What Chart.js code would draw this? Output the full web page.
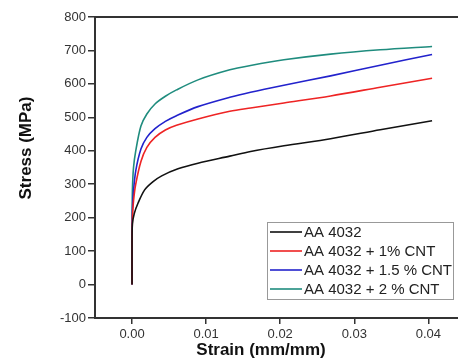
<!DOCTYPE html>
<html>
<head>
<meta charset="utf-8">
<script src="https://cdn.jsdelivr.net/npm/chart.js@4.4.1/dist/chart.umd.min.js"></script>
<style>
  html, body { margin: 0; padding: 0; background: #fff; }
  #wrap { width: 458px; height: 360px; }
</style>
</head>
<body>
<div id="wrap"><canvas id="stressChart" width="458" height="360"></canvas></div>
<script>
// series: [strain, stress]
const labels = ['AA 4032', 'AA 4032 + 1% CNT', 'AA 4032 + 1.5 % CNT', 'AA 4032 + 2 % CNT'];
const colors = ['#111111', '#ee2424', '#2222cc', '#1f8c7e'];

const aa4032 = [[0, 0], [0, 120], [0.00005, 181], [0.0003, 212], [0.0008, 243], [0.0017, 283], [0.0028, 307], [0.004, 325],
  [0.0062, 346], [0.0089, 363], [0.0132, 384], [0.016, 398], [0.0205, 415], [0.0268, 436], [0.0335, 463], [0.0405, 490]];
const cnt1 = [[0, 0], [0, 110], [0.00005, 200], [0.0002, 250], [0.0005, 300], [0.0012, 368], [0.002, 410], [0.0031, 440],
  [0.0045, 462], [0.006, 476], [0.0089, 495], [0.0132, 518], [0.016, 528], [0.0205, 543], [0.0268, 564], [0.0335, 590], [0.0405, 617]];
const cnt15 = [[0, 0], [0, 120], [0.00005, 220], [0.0002, 280], [0.0005, 340], [0.0012, 405], [0.002, 440], [0.0031, 466],
  [0.0045, 488], [0.006, 505], [0.0089, 532], [0.0132, 560], [0.016, 575], [0.0205, 596], [0.0268, 624], [0.0335, 656], [0.0405, 688]];
const cnt2 = [[0, 0], [0, 150], [0.00005, 281], [0.0002, 350], [0.0005, 400], [0.0012, 474], [0.002, 510], [0.0031, 540],
  [0.0045, 563], [0.006, 582], [0.0089, 612], [0.0132, 642], [0.016, 655], [0.0205, 672], [0.0268, 689], [0.0335, 702], [0.0405, 712]];

const xTicks = [0, 0.01, 0.02, 0.03, 0.04];
const yTicks = [-100, 0, 100, 200, 300, 400, 500, 600, 700, 800];

const series = [aa4032, cnt1, cnt15, cnt2];

// frame top line, axis titles and the boxed legend
const extras = {
  id: 'extras',
  afterDraw(chart) {
    const ctx = chart.ctx;
    const a = chart.chartArea;
    ctx.save();
    ctx.strokeStyle = '#333';
    ctx.lineWidth = 2;
    ctx.beginPath();
    ctx.moveTo(a.left - 1, a.top);
    ctx.lineTo(a.right, a.top);
    ctx.stroke();

    ctx.fillStyle = '#111';
    ctx.font = 'bold 17px "Liberation Sans", Arial, sans-serif';
    ctx.textAlign = 'center';
    ctx.textBaseline = 'middle';
    ctx.fillText('Strain (mm/mm)', 261, 350);
    ctx.translate(26, 148);
    ctx.rotate(-Math.PI / 2);
    ctx.fillText('Stress (MPa)', 0, 0);
    ctx.restore();

    // legend
    ctx.save();
    const lx = 267, ly = 222, lw = 186, lh = 77;
    ctx.fillStyle = '#fff';
    ctx.fillRect(lx, ly, lw, lh);
    ctx.strokeStyle = '#999';
    ctx.lineWidth = 1;
    ctx.strokeRect(lx + 0.5, ly + 0.5, lw, lh);
    ctx.font = '15px "Liberation Sans", Arial, sans-serif';
    ctx.textBaseline = 'middle';
    ctx.textAlign = 'left';
    chart.data.datasets.forEach((ds, i) => {
      const y = ly + 10 + i * 19;
      ctx.strokeStyle = ds.borderColor;
      ctx.lineWidth = 1.6;
      ctx.beginPath();
      ctx.moveTo(lx + 3, y);
      ctx.lineTo(lx + 35, y);
      ctx.stroke();
      ctx.fillStyle = '#222';
      ctx.fillText(ds.label, lx + 37, y + 0.5);
    });
    ctx.restore();
  }
};

new Chart(document.getElementById('stressChart').getContext('2d'), {
  type: 'line',
  data: {
    datasets: series.map((s, i) => ({
      label: labels[i],
      data: s.map(p => ({ x: p[0], y: p[1] })),
      borderColor: colors[i],
      backgroundColor: colors[i],
      borderWidth: 1.6,
      pointRadius: 0,
      tension: 0.3,
      fill: false
    }))
  },
  options: {
    responsive: false,
    animation: false,
    layout: { padding: { top: 17, right: 0, left: 0, bottom: 0 } },
    plugins: { legend: { display: false }, tooltip: { enabled: false } },
    scales: {
      x: {
        type: 'linear',
        min: -0.005,
        max: 0.044,
        afterBuildTicks: (scale) => { scale.ticks = xTicks.map(v => ({ value: v })); },
        afterFit: (scale) => { scale.height = 42; },
        ticks: {
          color: '#333',
          font: { size: 13, family: '"Liberation Sans", Arial, sans-serif' },
          padding: 3,
          maxRotation: 0,
          callback: (v) => v.toFixed(2)
        },
        grid: { display: true, drawOnChartArea: false, drawTicks: true, tickLength: 6, color: '#333', lineWidth: 1.5 },
        border: { display: true, color: '#333', width: 2 }
      },
      y: {
        min: -100,
        max: 800,
        afterBuildTicks: (scale) => { scale.ticks = yTicks.map(v => ({ value: v })); },
        afterFit: (scale) => { scale.width = 95; },
        ticks: {
          color: '#333',
          font: { size: 13, family: '"Liberation Sans", Arial, sans-serif' },
          padding: 2
        },
        grid: { display: true, drawOnChartArea: false, drawTicks: true, tickLength: 7, color: '#333', lineWidth: 1.5 },
        border: { display: true, color: '#333', width: 2 }
      }
    }
  },
  plugins: [extras]
});
</script>
</body>
</html>
